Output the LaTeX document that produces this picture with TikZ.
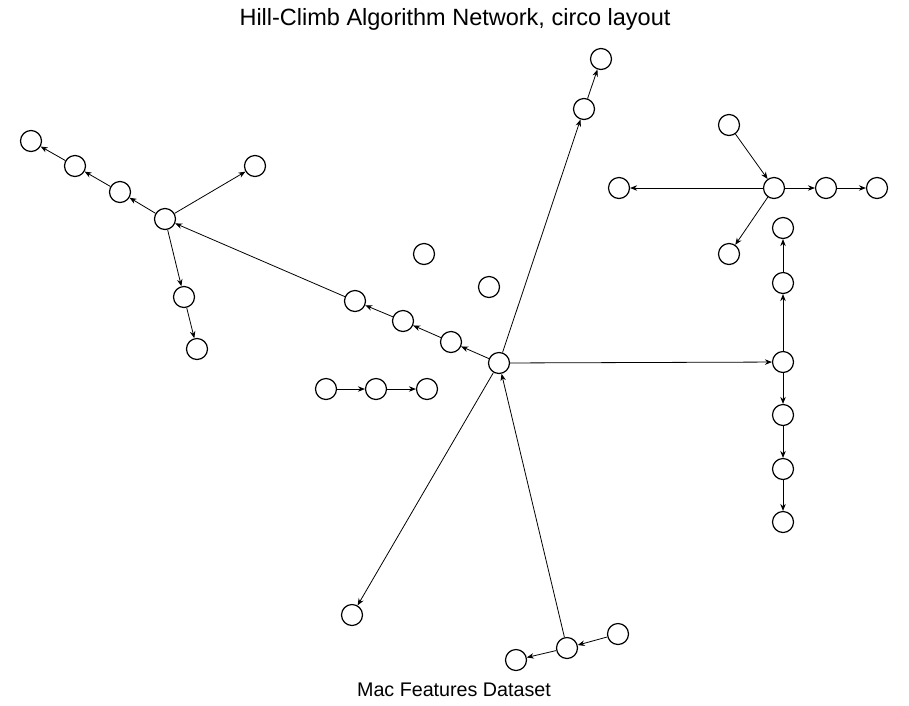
\documentclass[tikz,border=0pt]{standalone}
\usepackage{fontspec}
\setmainfont{Liberation Sans}
\usetikzlibrary{arrows.meta}
\begin{document}
\begin{tikzpicture}[x=1pt,y=-1pt,
  vnode/.style={circle,draw=black,line width=1.2pt,minimum size=21pt,inner sep=0pt,fill=white},
  edge/.style={line width=0.8pt,-{Stealth[length=7pt,width=5.5pt]}},
  ttl/.style={font=\fontsize{23.5}{26}\selectfont},
  sub/.style={font=\fontsize{19.7}{22}\selectfont}]
\useasboundingbox (0,0) rectangle (909,705);
\node[ttl] (title) at (455,19) {Hill-Climb Algorithm Network, circo layout};
\node[sub] (subtitle) at (454,690) {Mac Features Dataset};
\node[vnode] (n1) at (31,141) {};
\node[vnode] (n2) at (75,166) {};
\node[vnode] (n3) at (120,192) {};
\node[vnode] (n4) at (165,219) {};
\node[vnode] (n5) at (255,166) {};
\node[vnode] (n6) at (184,297) {};
\node[vnode] (n7) at (197,349) {};
\node[vnode] (n8) at (355,301) {};
\node[vnode] (n9) at (403,321) {};
\node[vnode] (n10) at (451,342) {};
\node[vnode] (n11) at (499,363) {};
\node[vnode] (n12) at (424,254) {};
\node[vnode] (n13) at (489,287) {};
\node[vnode] (n14) at (326,389) {};
\node[vnode] (n15) at (376,389) {};
\node[vnode] (n16) at (427,389) {};
\node[vnode] (n17) at (584,109) {};
\node[vnode] (n18) at (601,59) {};
\node[vnode] (n19) at (729,125) {};
\node[vnode] (n20) at (619,188) {};
\node[vnode] (n21) at (774,188) {};
\node[vnode] (n22) at (826,188) {};
\node[vnode] (n23) at (877,188) {};
\node[vnode] (n24) at (729,254) {};
\node[vnode] (n25) at (783,228) {};
\node[vnode] (n26) at (783,283) {};
\node[vnode] (n27) at (783,362) {};
\node[vnode] (n28) at (783,415) {};
\node[vnode] (n29) at (783,469) {};
\node[vnode] (n30) at (783,522) {};
\node[vnode] (n31) at (352,615) {};
\node[vnode] (n32) at (567,648) {};
\node[vnode] (n33) at (618,634) {};
\node[vnode] (n34) at (516,660) {};
\draw[edge] (n11) -- (n10);
\draw[edge] (n10) -- (n9);
\draw[edge] (n9) -- (n8);
\draw[edge] (n8) -- (n4);
\draw[edge] (n4) -- (n3);
\draw[edge] (n3) -- (n2);
\draw[edge] (n2) -- (n1);
\draw[edge] (n4) -- (n5);
\draw[edge] (n4) -- (n6);
\draw[edge] (n6) -- (n7);
\draw[edge] (n11) -- (n17);
\draw[edge] (n17) -- (n18);
\draw[edge] (n11) -- (n27);
\draw[edge] (n27) -- (n26);
\draw[edge] (n26) -- (n25);
\draw[edge] (n27) -- (n28);
\draw[edge] (n28) -- (n29);
\draw[edge] (n29) -- (n30);
\draw[edge] (n19) -- (n21);
\draw[edge] (n21) -- (n20);
\draw[edge] (n21) -- (n22);
\draw[edge] (n22) -- (n23);
\draw[edge] (n21) -- (n24);
\draw[edge] (n11) -- (n31);
\draw[edge] (n32) -- (n11);
\draw[edge] (n33) -- (n32);
\draw[edge] (n32) -- (n34);
\draw[edge] (n14) -- (n15);
\draw[edge] (n15) -- (n16);
\end{tikzpicture}
\end{document}
